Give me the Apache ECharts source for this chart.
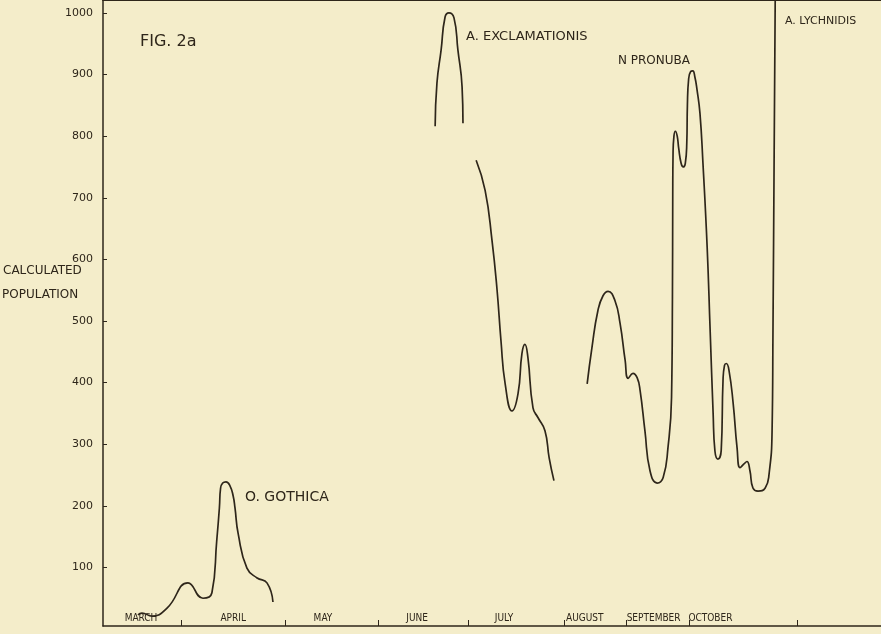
<!DOCTYPE html>
<html>
<head>
<meta charset="utf-8">
<script src="https://cdn.jsdelivr.net/npm/echarts@6/dist/echarts.min.js"></script>
<style>
  html, body { margin: 0; padding: 0; background: #f4edca; }
  #chart { width: 881px; height: 634px; }
</style>
</head>
<body>
<div id="chart"></div>
<script>
// x 单位：从三月初开始的天数（按原图手绘刻度估算）
const monthNames = ['MARCH', 'APRIL', 'MAY', 'JUNE', 'JULY', 'AUGUST', 'SEPTEMBER', 'OCTOBER']
const monthLabelAt = [12.7, 43.5, 73.5, 105, 134, 161, 184, 203]
const monthTicks = [26, 61, 92, 122, 154, 175, 196, 232]
const yTicks = [100, 200, 300, 400, 500, 600, 700, 800, 900, 1000]

// O. GOTHICA
const gothica = [
  [11.7, 23], [13.0, 26], [16.4, 21], [21.4, 34], [28.4, 75], [33.4, 50],
  [36.4, 59], [38.0, 143], [38.9, 197], [39.3, 229], [40.0, 237], [41.1, 239],
  [42.4, 233], [43.5, 216], [44.1, 197], [45.2, 154], [48.1, 99], [51.5, 83],
  [54.8, 75], [56.8, 44]
]
// A. EXCLAMATIONIS（两段）
const exclamationisA = [
  [111.0, 816], [111.6, 886], [113.0, 940], [114.3, 993], [115.6, 1000],
  [117.3, 992], [118.6, 940], [120.0, 880], [120.3, 821]
]
const exclamationisB = [
  [124.7, 761], [127.7, 712], [130.0, 631], [131.7, 550], [133.0, 468],
  [134.4, 398], [136.7, 354], [138.7, 382], [140.0, 447], [141.0, 462],
  [142.0, 441], [143.7, 359], [145.4, 343], [147.7, 322], [149.1, 278], [150.7, 241]
]
// N PRONUBA -> A. LYCHNIDIS（连续一条）
const pronuba = [
  [161.8, 398], [163.4, 457], [165.4, 517], [167.1, 541], [168.8, 548],
  [171.1, 533], [172.8, 496], [174.5, 436], [175.5, 407], [177.1, 415],
  [178.5, 408], [179.5, 387], [181.1, 322], [182.8, 257], [185.2, 237],
  [187.2, 246], [188.8, 294], [190.0, 376], [190.3, 538], [190.4, 700],
  [190.5, 770], [190.8, 800], [191.3, 808], [191.9, 800], [192.4, 780],
  [193.2, 756], [193.9, 750], [194.6, 756], [195.1, 790], [195.3, 850],
  [195.7, 892], [196.4, 905], [197.1, 906], [197.8, 896], [198.5, 876],
  [199.5, 837], [200.5, 756], [201.9, 620], [202.9, 485], [203.9, 350],
  [204.5, 289], [205.5, 276], [206.6, 290], [207.2, 403], [207.7, 428],
  [208.3, 431], [209.2, 420], [210.6, 366], [211.9, 294], [212.9, 262],
  [214.2, 268], [215.2, 272], [216.2, 257], [217.2, 229], [218.9, 224],
  [221.3, 229], [222.6, 252], [223.6, 322], [223.9, 485], [224.3, 777], [224.7, 1060]
]

const ink = '#2e261a'
const font = '"DejaVu Sans", sans-serif'

const myChart = echarts.init(document.getElementById('chart'))

const lineSeries = (name, data) => ({
  name: name,
  type: 'line',
  data: data,
  smooth: 0.5,
  showSymbol: false,
  clip: true,
  lineStyle: { color: ink, width: 1.7 }
})

const option = {
  backgroundColor: '#f4edca',
  animation: false,
  grid: { left: 103, right: 0, top: 0, bottom: 8 },
  xAxis: [
    {
      type: 'value',
      min: 0,
      max: 260,
      splitLine: { show: false },
      axisLine: { lineStyle: { color: ink, width: 1.5 } },
      axisTick: { customValues: monthTicks, inside: true, length: 6, lineStyle: { color: ink } },
      axisLabel: {
        customValues: monthLabelAt,
        inside: true,
        margin: 3,
        color: ink,
        fontFamily: '"DejaVu Sans Condensed", "DejaVu Sans", sans-serif',
        fontSize: 10,
        formatter: v => monthNames[monthLabelAt.indexOf(v)] || ''
      }
    },
    {
      type: 'value',
      position: 'top',
      min: 0,
      max: 260,
      splitLine: { show: false },
      axisLine: { lineStyle: { color: ink, width: 2 } },
      axisTick: { show: false },
      axisLabel: { show: false }
    }
  ],
  yAxis: {
    type: 'value',
    min: 5,
    max: 1021,
    splitLine: { show: false },
    axisLine: { show: true, lineStyle: { color: ink, width: 1.5 } },
    axisTick: { show: true, customValues: yTicks, inside: true, length: 4, lineStyle: { color: ink } },
    axisLabel: {
      customValues: yTicks,
      margin: 10,
      color: ink,
      fontFamily: font,
      fontSize: 11,
      formatter: v => String(v)
    }
  },
  graphic: [
    { type: 'text', left: 140, top: 34, style: { text: 'FIG. 2a', font: '16px ' + font, fill: ink } },
    { type: 'text', left: 3, top: 265, style: { text: 'CALCULATED', font: '12px ' + font, fill: ink } },
    { type: 'text', left: 2, top: 289, style: { text: 'POPULATION', font: '12px ' + font, fill: ink } },
    { type: 'text', left: 466, top: 30, style: { text: 'A. EXCLAMATIONIS', font: '13px ' + font, fill: ink } },
    { type: 'text', left: 618, top: 55, style: { text: 'N PRONUBA', font: '12px ' + font, fill: ink } },
    { type: 'text', left: 785, top: 16, style: { text: 'A. LYCHNIDIS', font: '11px ' + font, fill: ink } },
    { type: 'text', left: 245, top: 490, style: { text: 'O. GOTHICA', font: '14px ' + font, fill: ink } }
  ],
  series: [
    lineSeries('O. GOTHICA', gothica),
    lineSeries('A. EXCLAMATIONIS', exclamationisA),
    lineSeries('A. EXCLAMATIONIS', exclamationisB),
    lineSeries('N PRONUBA', pronuba)
  ]
}

myChart.setOption(option)
window.addEventListener('resize', () => { myChart.resize() })
</script>
</body>
</html>
